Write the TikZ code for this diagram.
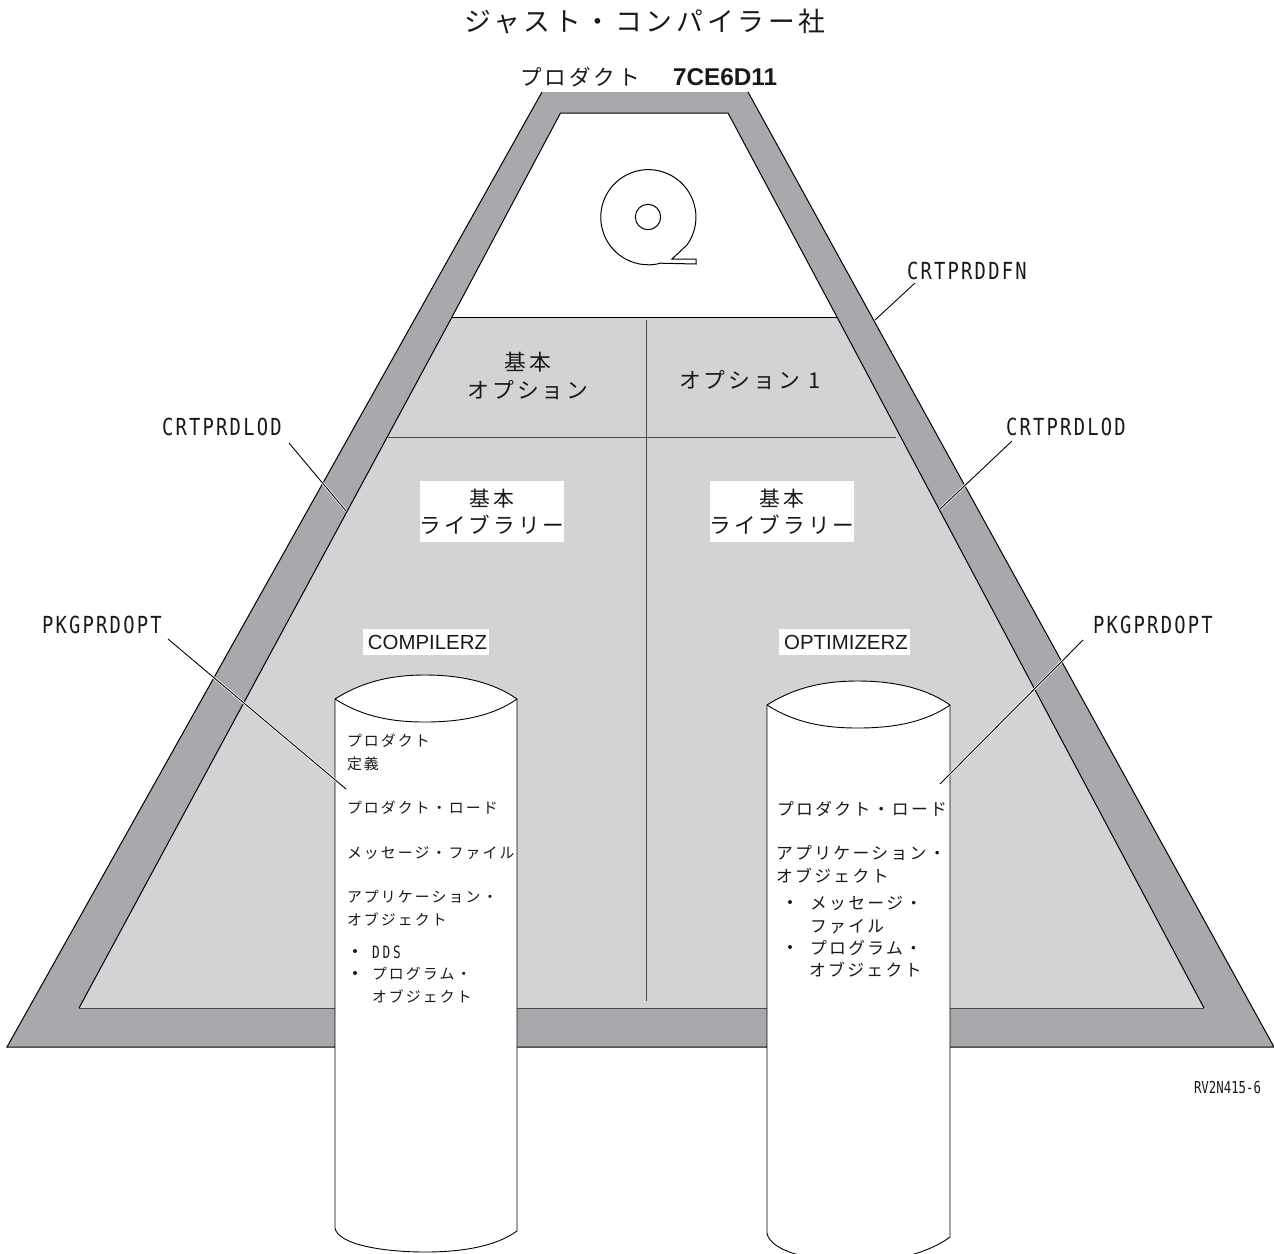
\documentclass[tikz,border=0pt]{standalone}
\usepackage{fontspec}
\newfontfamily\jpf[LetterSpace=14]{Noto Sans CJK JP}
\newfontfamily\codef[FakeStretch=0.8,LetterSpace=9.5]{DejaVu Sans Mono}
\newfontfamily\rvf[FakeStretch=0.75]{DejaVu Sans Mono}
\newfontfamily\helv{Liberation Sans}
\definecolor{bandgray}{HTML}{A7A9AC}
\definecolor{panelgray}{HTML}{D1D3D4}
\definecolor{rulegray}{HTML}{4A4A4A}
\tikzset{
  x=1pt,y=-1pt,
  every node/.style={inner sep=0pt,outer sep=0pt,text=black!90},
  jptext/.style={font=\jpf\fontsize{#1}{#1}\selectfont,text height=0.8*#1 pt,text depth=0.04*#1 pt},
  smalljp/.style={jptext=14.9,anchor=west},
  midjp/.style={jptext=16.8,anchor=west},
  bigjp/.style={jptext=21.8},
  codelabel/.style={font=\codef\fontsize{23.5}{23.5}\selectfont,anchor=west},
  libbox/.style={fill=white,minimum width=144pt,minimum height=61pt},
  namebox/.style={fill=white,minimum height=26pt,font=\helv\fontsize{20.4}{20.4}\selectfont},
  edge/.style={draw=black,line width=1pt,line join=miter},
  divider/.style={draw=rulegray,line width=1pt},
  leader/.style={preaction={draw=white,line width=2.4pt},draw=black,line width=0.9pt},
  cyl/.style={draw=black,line width=0.9pt,fill=white}
}
\begin{document}
\begin{tikzpicture}
\useasboundingbox (0,0) rectangle (1274,1253);
\begin{scope}
\clip (0,0) rectangle (1274,1253);
% bands and panels
\fill[bandgray] (542,92) -- (748,92) -- (1274,1047) -- (7,1047) -- cycle;
\draw[edge] (542,92) -- (7,1047) -- (1274,1047) -- (748,92);
\fill[panelgray] (452,317) -- (837,317) -- (1204,1008) -- (79,1008) -- cycle;
\fill[white] (560.5,113) -- (728,113) -- (837,317) -- (452,317) -- cycle;
\draw[edge] (452,317) -- (560.5,113) -- (728,113) -- (837,317) -- (1204,1008);
\draw[edge] (452,317) -- (79,1008);
\draw[edge] (452,317) -- (837,317);
\draw[divider] (79,1008) -- (1204,1008);
\draw[divider] (387,437) -- (896,437);
\draw[divider] (646,320) -- (646,1001);
% tape reel
\draw[line width=1pt] (648,217) circle[radius=12.7pt];
\draw[line width=1pt,line join=miter] (687,245) arc[start angle=-35.7,end angle=285,radius=47.6pt] -- (696,264) -- (696,259) -- (672,259) -- cycle;
% boxes
\node[libbox] (libA) at (492,511.5) {};
\node[libbox] (libB) at (782,511.5) {};
\node[namebox,minimum width=126pt,text width=126pt,align=center] (compiler) at (426,642) {\hspace{3pt}COMPILERZ};
\node[namebox,minimum width=131pt,text width=131pt,align=center] (optimizer) at (844.5,642) {\hspace{3pt}OPTIMIZERZ};
% cylinders
\path[cyl] (335,699) .. controls (365,680) and (395,675) .. (425,675) .. controls (455,675) and (490,680) .. (517,699)
  -- (517,1231) .. controls (495,1247) and (460,1252) .. (425,1252) .. controls (385,1252) and (338,1245) .. (335,1228) -- cycle;
\draw[line width=0.9pt] (335,699) .. controls (365,718) and (395,722) .. (425,722) .. controls (455,722) and (490,718) .. (517,699);
\path[cyl] (767,705) .. controls (797,686) and (827,681) .. (858,681) .. controls (888,681) and (923,686) .. (950,705)
  -- (950,1237) .. controls (930,1252) and (895,1262) .. (858,1262) .. controls (815,1262) and (770,1252) .. (767,1233) -- cycle;
\draw[line width=0.9pt] (767,705) .. controls (797,724) and (827,728) .. (858,728) .. controls (888,728) and (923,724) .. (950,705);
\end{scope}
% labels with leaders
\node[codelabel] (dfn) at (907,271) {CRTPRDDFN};
\node[codelabel] (lodL) at (162,427) {CRTPRDLOD};
\node[codelabel] (lodR) at (1006,427) {CRTPRDLOD};
\node[codelabel] (pkgL) at (42,625) {PKGPRDOPT};
\node[codelabel] (pkgR) at (1093,625) {PKGPRDOPT};
\coordinate (dfnS) at (915,283);
\coordinate (dfnE) at (875,320);
\coordinate (lodLS) at (289,443);
\coordinate (lodLE) at (346,511);
\coordinate (lodRS) at (1012,441);
\coordinate (lodRE) at (940,509);
\coordinate (pkgLS) at (168,639);
\coordinate (pkgLE) at (346,789);
\coordinate (pkgRS) at (1083,640);
\coordinate (pkgRE) at (940,784);
\draw[leader] (dfnS) -- (dfnE);
\draw[leader] (lodLS) -- (lodLE);
\draw[leader] (lodRS) -- (lodRE);
\draw[leader] (pkgLS) -- (pkgLE);
\draw[leader] (pkgRS) -- (pkgRE);
% headings
\node[jptext=26.8,anchor=west] (title) at (464,21) {ジャスト・コンパイラー社};
\node[jptext=21.6,anchor=west] (prod) at (520,77) {プロダクト};
\node[anchor=west,font=\helv\bfseries\fontsize{24.3}{24.3}\selectfont] (prodid) at (673,77) {7CE6D11};
% panel captions
\node[bigjp] (base1) at (528,362) {基本};
\node[bigjp] (base2) at (528,390) {オプション};
\node[bigjp,anchor=west] (opt1) at (679,380) {オプション\hspace{8pt}1};
\node[jptext=20.8] (la1) at (492,499) {基本};
\node[jptext=21.6] (la2) at (492,525) {ライブラリー};
\node[jptext=20.8] (lb1) at (782,499) {基本};
\node[jptext=21.6] (lb2) at (782,525) {ライブラリー};
% left cylinder text
\node[smalljp] (c1) at (347,741) {プロダクト};
\node[smalljp] (c2) at (347,764) {定義};
\node[smalljp] (c3) at (347,808) {プロダクト・ロード};
\node[smalljp] (c4) at (347,853) {メッセージ・ファイル};
\node[smalljp] (c5) at (347,897) {アプリケーション・};
\node[smalljp] (c6) at (347,920) {オブジェクト};
\fill[black!90] (355,951) circle[radius=2pt];
\node[anchor=west,font=\rvf\fontsize{17}{17}\selectfont] (c7) at (372,952) {D\,D\,S};
\fill[black!90] (355,973) circle[radius=2pt];
\node[smalljp] (c8) at (372,974) {プログラム・};
\node[smalljp] (c9) at (372,997) {オブジェクト};
% right cylinder text
\node[midjp] (d1) at (777,809) {プロダクト・ロード};
\node[midjp] (d2) at (776,853) {アプリケーション・};
\node[midjp] (d3) at (776,876) {オブジェクト};
\fill[black!90] (790,902) circle[radius=2pt];
\node[midjp] (d4) at (810,903) {メッセージ・};
\node[midjp] (d5) at (810,926) {ファイル};
\fill[black!90] (790,947) circle[radius=2pt];
\node[midjp] (d6) at (810,948) {プログラム・};
\node[midjp] (d7) at (809,970) {オブジェクト};
\node[anchor=west,font=\rvf\fontsize{16.5}{16.5}\selectfont] (fig) at (1194,1087) {RV2N415-6};
\end{tikzpicture}
\end{document}
